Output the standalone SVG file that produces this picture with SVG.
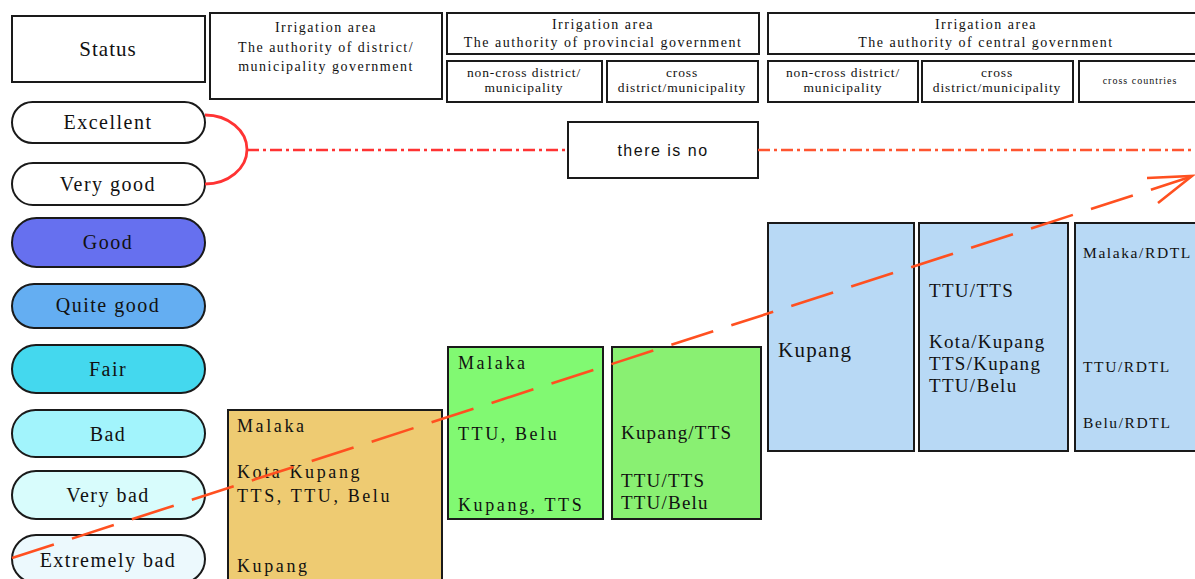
<svg xmlns="http://www.w3.org/2000/svg" width="1195" height="579" viewBox="0 0 1195 579">
<style>
.box{fill:#fff;stroke:#1a1a1a;stroke-width:2}
.pill{stroke:#1a1a1a;stroke-width:2}
.t{font-family:"Liberation Serif","Times New Roman",serif;fill:#111}
.hd{font-size:14px;letter-spacing:1.5px;text-anchor:middle}
.sub{font-size:13.5px;letter-spacing:0.9px;text-anchor:middle}
.pl{font-size:20px;letter-spacing:1.5px;text-anchor:middle}
.cell{font-size:18px;letter-spacing:2.6px}
</style>
<rect width="1195" height="579" fill="#fff"/>
<g id="status">
<rect class="box" x="12" y="16" width="193" height="66"/>
<text class="t" x="108" y="56" font-size="21" letter-spacing="1" text-anchor="middle">Status</text>
</g>
<g id="hdr-district">
<rect class="box" x="210" y="13" width="232" height="86"/>
<text class="t hd" x="326" y="32" font-size="15">Irrigation area</text>
<text class="t hd" x="326" y="52">The authority of district/</text>
<text class="t hd" x="326" y="71">municipality government</text>
</g>
<g id="hdr-provincial">
<rect class="box" x="447" y="13" width="312" height="41"/>
<text class="t hd" x="603" y="29">Irrigation area</text>
<text class="t hd" x="603" y="47">The authority of provincial government</text>
</g>
<g id="sub-prov-noncross">
<rect class="box" x="447" y="61" width="155" height="41"/>
<text class="t sub" x="524" y="77">non-cross district/</text>
<text class="t sub" x="524" y="92">municipality</text>
</g>
<g id="sub-prov-cross">
<rect class="box" x="607" y="61" width="151" height="41"/>
<text class="t sub" x="682" y="77">cross</text>
<text class="t sub" x="682" y="92">district/municipality</text>
</g>
<g id="hdr-central">
<rect class="box" x="768" y="13" width="440" height="41"/>
<text class="t hd" x="986" y="29" letter-spacing="1.8">Irrigation area</text>
<text class="t hd" x="986" y="47" letter-spacing="1.8">The authority of central government</text>
</g>
<g id="sub-cent-noncross">
<rect class="box" x="768" y="61" width="150" height="41"/>
<text class="t sub" x="843" y="77">non-cross district/</text>
<text class="t sub" x="843" y="92">municipality</text>
</g>
<g id="sub-cent-cross">
<rect class="box" x="922" y="61" width="151" height="41"/>
<text class="t sub" x="997" y="77">cross</text>
<text class="t sub" x="997" y="92">district/municipality</text>
</g>
<g id="sub-cent-countries">
<rect class="box" x="1079" y="61" width="130" height="41"/>
<text class="t" x="1140" y="84" font-size="10" letter-spacing="1" text-anchor="middle">cross countries</text>
</g>
<g id="p-excellent">
<rect class="pill" x="12" y="102" width="193" height="41" rx="20.5" fill="#fff"/>
<text class="t pl" x="108" y="129">Excellent</text>
</g>
<g id="p-verygood">
<rect class="pill" x="12" y="163" width="193" height="42" rx="21" fill="#fff"/>
<text class="t pl" x="108" y="191">Very good</text>
</g>
<g id="p-good">
<rect class="pill" x="12" y="218" width="193" height="49" rx="24.5" fill="#6670ef"/>
<text class="t pl" x="108" y="249">Good</text>
</g>
<g id="p-quitegood">
<rect class="pill" x="12" y="284" width="193" height="44" rx="22" fill="#64aef2"/>
<text class="t pl" x="108" y="312">Quite good</text>
</g>
<g id="p-fair">
<rect class="pill" x="12" y="345" width="193" height="48" rx="24" fill="#44d8ee"/>
<text class="t pl" x="108" y="376">Fair</text>
</g>
<g id="p-bad">
<rect class="pill" x="12" y="410" width="193" height="47" rx="23.5" fill="#a2f4fc"/>
<text class="t pl" x="108" y="441">Bad</text>
</g>
<g id="p-verybad">
<rect class="pill" x="12" y="471" width="193" height="48" rx="24" fill="#d8fcfc"/>
<text class="t pl" x="108" y="502">Very bad</text>
</g>
<g id="p-extremelybad">
<rect class="pill" x="12" y="535" width="193" height="48" rx="24" fill="#ecf9fd"/>
<text class="t pl" x="108" y="567">Extremely bad</text>
</g>
<g id="there-is-no">
<rect class="box" x="568" y="122" width="190" height="56"/>
<text x="663" y="156" font-family="'Liberation Sans',Arial,sans-serif" font-size="16" letter-spacing="1.5" text-anchor="middle" fill="#111">there is no</text>
</g>
<g id="c-district">
<rect class="box" x="228" y="410" width="214" height="180" fill="#eecb72" style="fill:#eecb72"/>
<text class="t cell" x="237" y="432">Malaka</text>
<text class="t cell" x="237" y="478">Kota Kupang</text>
<text class="t cell" x="237" y="502">TTS, TTU, Belu</text>
<text class="t cell" x="237" y="572">Kupang</text>
</g>
<g id="c-prov-noncross">
<rect class="box" x="448" y="347" width="155" height="172" style="fill:#81f972"/>
<text class="t cell" x="458" y="369">Malaka</text>
<text class="t cell" x="458" y="440">TTU, Belu</text>
<text class="t cell" x="458" y="511">Kupang, TTS</text>
</g>
<g id="c-prov-cross">
<rect class="box" x="612" y="347" width="149" height="172" style="fill:#89f072"/>
<text class="t" x="621" y="439" font-size="19" letter-spacing="1.2">Kupang/TTS</text>
<text class="t" x="621" y="487" font-size="19" letter-spacing="1.2">TTU/TTS</text>
<text class="t" x="621" y="509" font-size="19" letter-spacing="1.2">TTU/Belu</text>
</g>
<g id="c-cent-noncross">
<rect class="box" x="768" y="223" width="146" height="228" style="fill:#b8d9f5"/>
<text class="t" x="778" y="357" font-size="21" letter-spacing="1.3">Kupang</text>
</g>
<g id="c-cent-cross">
<rect class="box" x="919" y="223" width="149" height="228" style="fill:#b8d9f5"/>
<text class="t" x="929" y="297" font-size="19" letter-spacing="1.3">TTU/TTS</text>
<text class="t" x="929" y="348" font-size="19" letter-spacing="1.3">Kota/Kupang</text>
<text class="t" x="929" y="370" font-size="19" letter-spacing="1.3">TTS/Kupang</text>
<text class="t" x="929" y="392" font-size="19" letter-spacing="1.3">TTU/Belu</text>
</g>
<g id="c-cent-countries">
<rect class="box" x="1075" y="223" width="140" height="228" style="fill:#b8d9f5"/>
<text class="t" x="1083" y="258" font-size="15.5" letter-spacing="1.6">Malaka/RDTL</text>
<text class="t" x="1083" y="372" font-size="15.5" letter-spacing="1.6">TTU/RDTL</text>
<text class="t" x="1083" y="428" font-size="15.5" letter-spacing="1.6">Belu/RDTL</text>
</g>
<g id="connectors" fill="none">
<path d="M205,115 A42,34.5 0 0 1 205,184" stroke="#ff3333" stroke-width="2.8"/>
<path d="M247,150 H568" stroke="#ff3333" stroke-width="2.5" stroke-dasharray="12 4 3 4"/>
<path d="M758,150 H1195" stroke="#ff5530" stroke-width="2.5" stroke-dasharray="12 4 3 4"/>
<path d="M12,558 L1190,177" stroke="#ff5020" stroke-width="2.6" stroke-dasharray="44 19"/>
<polyline points="1147,178 1192,176 1158,203" stroke="#ff5020" stroke-width="2.6"/>
</g>
</svg>
